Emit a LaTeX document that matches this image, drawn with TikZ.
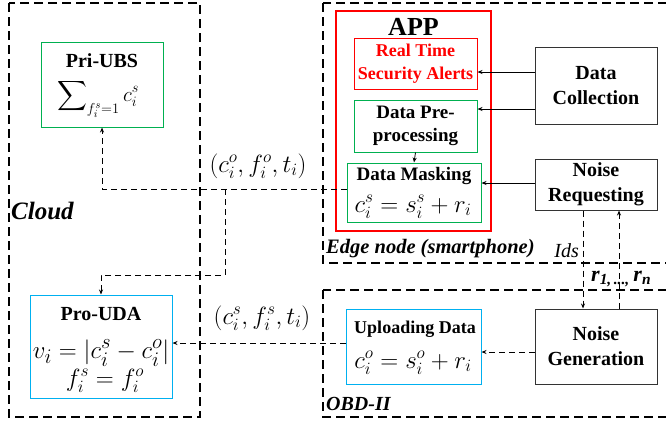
\documentclass[tikz,border=0pt]{standalone}
\usepackage{fontspec}
\setmainfont{Liberation Serif}
\usepackage{amsmath}
\usetikzlibrary{arrows.meta}

\definecolor{boxgreen}{RGB}{0,176,80}
\definecolor{boxcyan}{RGB}{0,176,240}
\definecolor{alertred}{RGB}{255,0,0}

\newcommand{\fsz}[1]{\fontsize{#1}{#1}\selectfont}

\tikzset{
	region/.style={draw,line width=1.4pt,dash pattern=on 9pt off 5pt},
	blockbox/.style={draw=black!80,line width=1pt,inner sep=0pt,align=center,
		minimum width=122pt,font=\fontsize{20}{25}\selectfont\bfseries},
	appbox/.style={draw,line width=1pt,inner sep=0pt,align=center},
	boxtitle/.style={anchor=base,inner sep=0pt,font=\fontsize{19}{23}\selectfont\bfseries},
	boxmath/.style={anchor=base,inner sep=0pt},
	flow/.style={-{Stealth[length=5pt,width=4pt]},line width=0.8pt},
	dflow/.style={flow,dash pattern=on 6pt off 4pt},
	zonelabel/.style={anchor=base west,inner sep=0pt,font=\fontsize{20}{24}\selectfont\bfseries\itshape},
}

\begin{document}
\begin{tikzpicture}[x=1pt,y=-1pt]
	\useasboundingbox (0,0) rectangle (666,424);
	\clip (0,0) rectangle (666,424);
	
	% regions
	\draw[region] (9,3) rectangle (200,417);
	\draw[region] (323,3) rectangle (690,263);
	\draw[region] (323,290) rectangle (690,417);
	\node[zonelabel,font=\fontsize{25}{30}\selectfont\bfseries\itshape] (cloud) at (11,219) {Cloud};
	\node[zonelabel,font=\fontsize{20.5}{24}\selectfont\bfseries\itshape] (edge) at (326,253) {Edge node (smartphone)};
	\node[zonelabel] (obd) at (326,410) {OBD-II};
	
	% cloud side
	\node[appbox,draw=boxgreen,minimum width=122pt,minimum height=85pt] (priubs) at (102,84.5) {};
	\node[boxtitle,font=\fontsize{20}{24}\selectfont\bfseries] (priubst) at (102,67) {Pri-UBS};
	\node[boxmath,font=\fsz{21}] (priubsm) at (98,101) {$\displaystyle\sum\nolimits_{f_i^s=1} c_i^s$};
	\node[appbox,draw=boxcyan,minimum width=142pt,minimum height=103pt] (proudu) at (101,346.5) {};
	\node[boxtitle,font=\fontsize{20}{24}\selectfont\bfseries] (proudut) at (101,320) {Pro-UDA};
	\node[boxmath,font=\fsz{28}] (proudum) at (101,358) {$v_i=|c_i^s-c_i^o|$};
	\node[boxmath,font=\fsz{26}] (proudun) at (105,386) {$f_i^s=f_i^o$};
	
	% app on the smartphone
	\node[appbox,draw=alertred,line width=1.2pt,minimum width=155pt,minimum height=220pt] (app) at (413.5,121) {};
	\node[boxtitle,font=\fontsize{26}{30}\selectfont\bfseries] (apptitle) at (413.5,35) {APP};
	\node[appbox,draw=alertred,text=alertred,minimum width=123pt,minimum height=51pt,
		font=\fontsize{18}{23}\selectfont\bfseries] (alerts) at (415.5,63.5) {Real Time\\Security Alerts};
	\node[appbox,draw=boxgreen,minimum width=123pt,minimum height=52pt,
		font=\fontsize{19}{23}\selectfont\bfseries] (prep) at (415.5,126) {Data Pre-\\processing};
	\node[appbox,draw=boxgreen,minimum width=134pt,minimum height=59pt] (mask) at (414,192.5) {};
	\node[boxtitle] (maskt) at (414,180) {Data Masking};
	\node[boxmath,font=\fsz{27}] (maskm) at (413,212) {$c_i^s=s_i^s+r_i$};
	\node[blockbox,minimum height=77pt] (collect) at (596,85.5) {Data\\Collection};
	\node[blockbox,minimum height=51pt] (noisereq) at (596,184.5) {Noise\\Requesting};
	
	% OBD-II side
	\node[appbox,draw=boxcyan,minimum width=135pt,minimum height=75pt] (upload) at (413.5,346.5) {};
	\node[boxtitle,font=\fontsize{18}{22}\selectfont\bfseries] (uploadt) at (415,333) {Uploading Data};
	\node[boxmath,font=\fsz{26}] (uploadm) at (413,368) {$c_i^o=s_i^o+r_i$};
	\node[blockbox,minimum height=75pt] (noisegen) at (596,346.5) {Noise\\Generation};
	
	% solid arrows inside the phone
	\draw[flow] (collect.west |- 0,72) -- (alerts.east |- 0,72);
	\draw[flow] (collect.west |- 0,109) -- (prep.east |- 0,109);
	\draw[flow] (prep.south) -- (mask.north);
	\draw[flow] (noisereq.west |- 0,183) -- (mask.east |- 0,183);
	
	% uploads to the cloud
	\coordinate (split) at (225,189);
	\draw[dflow] (mask.west |- 0,189) -- (priubs.south |- 0,189) -- (priubs.south);
	\draw[dflow] (split) -- (225,275) -- (101,275) -- (proudu.north -| 101,0);
	\draw[dflow] (upload.west |- 0,343) -- (proudu.east |- 0,343);
	\node[font=\fsz{26},anchor=base] (lblo) at (258,172) {$(c_i^o,f_i^o,t_i)$};
	\node[font=\fsz{26},anchor=base] (lbls) at (262,324) {$(c_i^s,f_i^s,t_i)$};
	
	% noise exchange
	\draw[dflow] (noisegen.west |- 0,352) -- (upload.east |- 0,352);
	\draw[dflow] (noisereq.south -| 583,0) -- (noisegen.north -| 583,0);
	\draw[dflow] (noisegen.north -| 619,0) -- (noisereq.south -| 619,0);
	\node[font=\fontsize{20}{24}\selectfont\itshape,anchor=base east,inner sep=0pt] (ids) at (579,257) {Ids};
	\node[font=\fontsize{22}{24}\selectfont\bfseries\itshape,anchor=base west,inner sep=0pt] (rlist) at (591,281)
		{r\textsubscript{1,\,...,}\,r\textsubscript{n}};
\end{tikzpicture}
\end{document}
